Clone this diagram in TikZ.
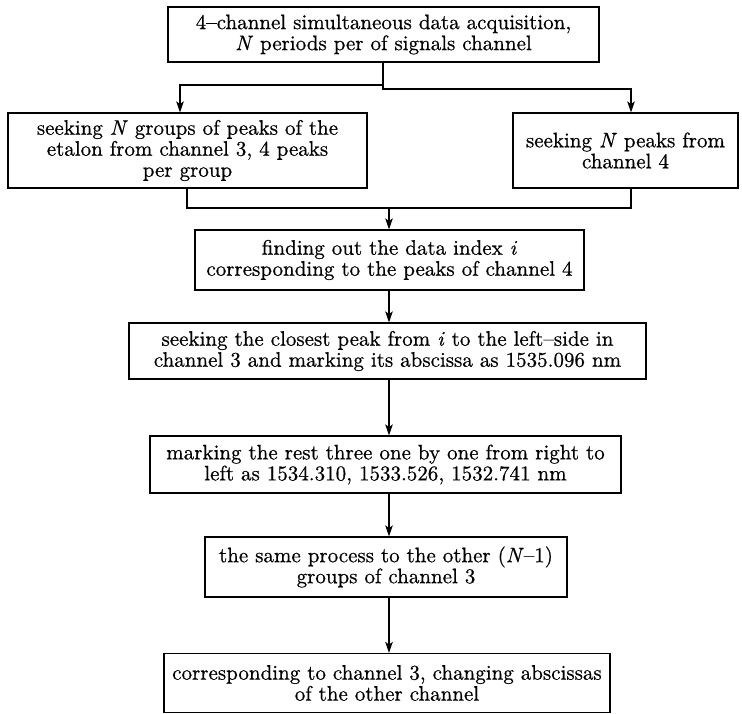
\documentclass[tikz,border=0pt]{standalone}
\usepackage{fontspec}
\setmainfont{lmroman10-regular.otf}[Ligatures=TeX,FakeBold=0.6,ItalicFont=lmroman10-italic.otf,ItalicFeatures={FakeBold=0.6},BoldFont=lmroman10-bold.otf,BoldItalicFont=lmroman10-bolditalic.otf]
\usetikzlibrary{arrows.meta}
\begin{document}
\begin{tikzpicture}[x=1pt,y=-1pt,
  box/.style={draw,line width=1.1pt,inner sep=0pt,align=center,
    font=\fontsize{21}{21}\selectfont},
  ln/.style={line width=1.1pt},
  arr/.style={line width=1.1pt,-{Stealth[length=11pt,width=7.5pt,inset=2.5pt]}}]
\useasboundingbox (0,0) rectangle (742,714);
% boxes
\node[box,minimum width=431pt,minimum height=55pt] (b1) at (383.5,34.5)
  {4--channel simultaneous data acquisition,\\ \textit{N} periods per of signals channel};
\node[box,minimum width=359pt,minimum height=75pt] (b2) at (187.5,150.5)
  {seeking \textit{N} groups of peaks of the\\ etalon from channel 3, 4 peaks\\ per group};
\node[box,minimum width=225pt,minimum height=75pt] (b3) at (625.5,150.5)
  {seeking \textit{N} peaks from\\ channel 4};
\node[box,minimum width=389pt,minimum height=60pt] (b4) at (389.5,260)
  {finding out the data index \textit{i}\\ corresponding to the peaks of channel 4};
\node[box,minimum width=517pt,minimum height=56pt] (b5) at (387.5,351)
  {seeking the closest peak from \textit{i} to the left--side in\\ channel 3 and marking its abscissa as 1535.096 nm};
\node[box,minimum width=471pt,minimum height=57pt] (b6) at (385.5,464.5)
  {marking the rest three one by one from right to\\ left as 1534.310, 1533.526, 1532.741 nm};
\node[box,minimum width=362pt,minimum height=60pt] (b7) at (386,567)
  {the same process to the other (\textit{N}--1)\\ groups of channel 3};
\node[box,minimum width=446pt,minimum height=59pt] (b8) at (387,683)
  {corresponding to channel 3, changing abscissas\\ of the other channel};
% helper coordinates
\coordinate (xa) at (180,0);
\coordinate (xb) at (383,0);
\coordinate (xc) at (631,0);
\coordinate (xd) at (187,0);
\coordinate (xm) at (389,0);
\coordinate (ja) at (383,85);
\coordinate (jb) at (383,89);
\coordinate (jm) at (389,208);
% connectors
\draw[arr] (b1.south -| xb) -- (jb) -| (b3.north -| xc);
\draw[arr] (ja) -| (b2.north -| xa);
\draw[ln] (b2.south -| xd) |- (jm) -| (b3.south -| xc);
\draw[arr] (jm) -- (b4.north -| xm);
\draw[arr] (b4.south -| xm) -- (b5.north -| xm);
\draw[arr] (b5.south -| xm) -- (b6.north -| xm);
\draw[arr] (b6.south -| xm) -- (b7.north -| xm);
\draw[arr] (b7.south -| xm) -- (b8.north -| xm);
\end{tikzpicture}
\end{document}
